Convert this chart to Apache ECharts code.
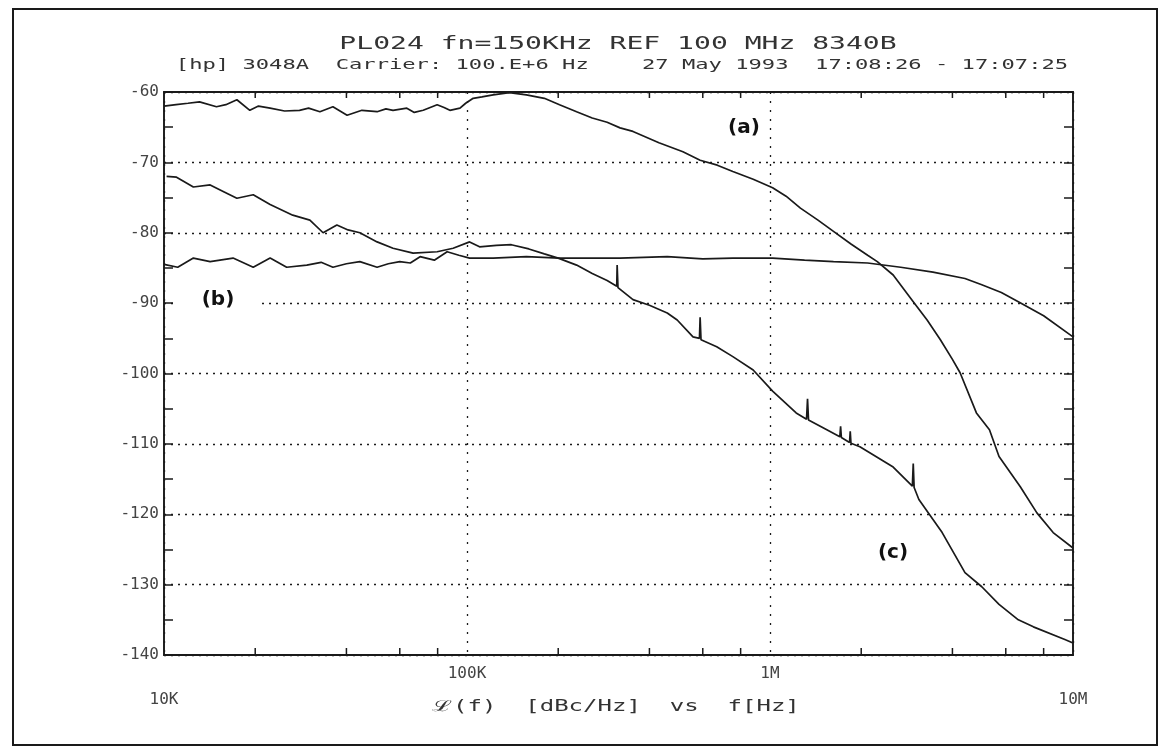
<!DOCTYPE html>
<html>
<head>
<meta charset="utf-8">
<script src="https://cdn.jsdelivr.net/npm/echarts@6/dist/echarts.min.js"></script>
<style>html,body{margin:0;padding:0;background:#fff}#c{width:1170px;height:751px}</style>
</head>
<body>
<div id="c"></div>
<script>
// ---- data ----
const titleText = 'PL024 fn=150KHz REF 100 MHz 8340B';
const subtitleText = '[hp] 3048A  Carrier: 100.E+6 Hz    27 May 1993  17:08:26 - 17:07:25';
const xAxisTitle = '\u2112(f)  [dBc/Hz]  vs  f[Hz]';
const xTickLabels = {10000: '10K', 100000: '100K', 1000000: '1M', 10000000: '10M'};
const yTicks = [-60, -70, -80, -90, -100, -110, -120, -130, -140];
const minorFreqs = [2e4, 4e4, 6e4, 8e4, 2e5, 4e5, 6e5, 8e5, 2e6, 4e6, 6e6, 8e6];
const curveLabels = ['(a)', '(b)', '(c)'];

const curveA = [
[10000,-62.0],[10960,-61.8],[12000,-61.6],[13100,-61.4],[14900,-62.1],[16000,-61.8],[17400,-61.1],[19200,-62.6],[20500,-62.0],[22400,-62.3],[25000,-62.7],[28000,-62.6],[30000,-62.3],[32700,-62.8],[36100,-62.1],[40200,-63.3],[45000,-62.6],[50500,-62.8],[54000,-62.4],[57000,-62.6],[63300,-62.3],[67000,-62.9],[71700,-62.6],[79700,-61.8],[84000,-62.2],[87800,-62.6],[94800,-62.3],[99000,-61.6],[104800,-60.9],[112000,-60.7],[122000,-60.4],[138000,-60.1],[157000,-60.4],[180000,-60.9],[202000,-61.8],[230000,-62.8],[259000,-63.7],[290000,-64.3],[320000,-65.1],[353000,-65.6],[430000,-67.2],[516000,-68.5],[588000,-69.7],[670000,-70.4],[754000,-71.3],[880000,-72.4],[1020000,-73.6],[1130000,-74.8],[1260000,-76.5],[1440000,-78.2],[1620000,-79.8],[1850000,-81.6],[2100000,-83.2],[2260000,-84.1],[2550000,-86.0],[2970000,-89.8],[3300000,-92.4],[3650000,-95.2],[4000000,-98.0],[4240000,-99.9],[4800000,-105.6],[5300000,-108.0],[5700000,-111.8],[6700000,-116.1],[7600000,-119.8],[8600000,-122.6],[10000000,-124.8]
];

const curveB = [
[10000,-84.5],[11100,-84.9],[12500,-83.6],[14200,-84.1],[16900,-83.6],[19700,-84.9],[22400,-83.6],[25400,-84.9],[29600,-84.6],[33000,-84.2],[36100,-84.9],[40000,-84.4],[44300,-84.1],[50500,-84.9],[55000,-84.4],[60000,-84.1],[65000,-84.3],[70000,-83.4],[78000,-83.9],[86000,-82.7],[94000,-83.2],[102000,-83.6],[122000,-83.6],[157000,-83.4],[202000,-83.6],[275000,-83.6],[320000,-83.6],[458000,-83.4],[600000,-83.7],[754000,-83.6],[1020000,-83.6],[1300000,-83.9],[1620000,-84.1],[2100000,-84.3],[2700000,-84.9],[3450000,-85.6],[4400000,-86.5],[5000000,-87.4],[5800000,-88.5],[6600000,-89.8],[8000000,-91.8],[10000000,-94.8]
];

const curveC = [
[10200,-72.0],[11000,-72.1],[12500,-73.5],[14200,-73.2],[15800,-74.2],[17400,-75.1],[19700,-74.6],[22400,-76.0],[26600,-77.5],[30300,-78.2],[33500,-80.0],[37200,-78.9],[40500,-79.6],[44300,-80.0],[50500,-81.3],[57000,-82.2],[66400,-82.9],[79700,-82.7],[90000,-82.2],[102000,-81.3],[110000,-82.0],[125000,-81.8],[140000,-81.7],[160000,-82.3],[180000,-83.0],[200000,-83.6],[230000,-84.6],[259000,-85.8],[290000,-86.8],[312000,-87.6],[313000,-84.6],[315000,-87.8],[353000,-89.5],[400000,-90.3],[458000,-91.4],[494000,-92.4],[557000,-94.8],[585000,-95.0],[588000,-92.0],[592000,-95.2],[667000,-96.2],[754000,-97.6],[880000,-99.5],[1020000,-102.5],[1220000,-105.6],[1320000,-106.5],[1330000,-103.6],[1340000,-106.6],[1540000,-108.0],[1700000,-109.0],[1710000,-107.5],[1720000,-109.1],[1830000,-109.8],[1840000,-108.2],[1850000,-109.9],[1980000,-110.4],[2550000,-113.3],[2950000,-116.0],[2970000,-112.8],[2990000,-116.2],[3100000,-117.9],[3700000,-122.6],[4400000,-128.3],[5000000,-130.3],[5700000,-132.8],[6600000,-135.0],[7400000,-136.0],[9400000,-137.8],[10000000,-138.3]
];

// ---- chart ----
const chart = echarts.init(document.getElementById('c'), null, {renderer: 'canvas'});
const ink = '#1a1a1a';
const mono = 'DejaVu Sans Mono';

const yAxisCommon = {
  type: 'value', min: -140, max: -60, interval: 10,
  axisLine: {show: true, lineStyle: {color: ink, width: 1.6}},
  axisTick: {show: true, inside: true, length: 9, lineStyle: {color: ink, width: 1.5}},
  minorTick: {show: true, splitNumber: 2, length: 9, lineStyle: {color: ink, width: 1.5}},
};

chart.setOption({
  animation: false,
  backgroundColor: '#fff',
  grid: {left: 164, right: 97, top: 92, bottom: 96, show: true, borderColor: ink, borderWidth: 1.6},
  xAxis: [{
    type: 'log', logBase: 10, min: 1e4, max: 1e7,
    axisLine: {show: true, lineStyle: {color: ink, width: 2}},
    axisTick: {show: false},
    splitLine: {show: true, lineStyle: {color: ink, width: 1.3, type: [2, 7]}},
    axisLabel: {
      color: '#444', fontFamily: mono, fontSize: 16, margin: 6, lineHeight: 26,
      formatter: v => {
        const t = xTickLabels[Math.round(v)] || '';
        return (Math.round(v) === 10000 || Math.round(v) === 10000000) ? '\n' + t : t;
      }
    }
  }, {
    type: 'log', logBase: 10, min: 1e4, max: 1e7, position: 'top',
    axisLine: {show: true, lineStyle: {color: ink, width: 2.2}},
    axisTick: {show: false}, axisLabel: {show: false}, splitLine: {show: false}
  }],
  yAxis: [Object.assign({}, yAxisCommon, {
    position: 'left',
    splitLine: {show: true, lineStyle: {color: ink, width: 1.3, type: [2, 5]}},
    axisLabel: {color: '#444', fontFamily: mono, fontSize: 16, margin: 5,
      formatter: v => yTicks.indexOf(v) >= 0 ? String(v) : ''}
  }), Object.assign({}, yAxisCommon, {
    position: 'right',
    splitLine: {show: false},
    axisLabel: {show: false}
  })],
  series: [
    {type: 'line', name: 'a', data: curveA, showSymbol: false, lineStyle: {color: ink, width: 1.7}, z: 5},
    {type: 'line', name: 'b', data: curveB, showSymbol: false, lineStyle: {color: ink, width: 1.7}, z: 5},
    {type: 'line', name: 'c', data: curveC, showSymbol: false, lineStyle: {color: ink, width: 1.7}, z: 5},
    {
      type: 'custom', silent: true, clip: false, z: 6,
      data: minorFreqs.map(f => [f, -100]),
      encode: {x: 0, y: 1},
      renderItem: (params, api) => {
        const p = api.coord([api.value(0), -100]);
        const cs = params.coordSys;
        const st = {stroke: ink, lineWidth: 1.5};
        return {type: 'group', children: [
          {type: 'line', shape: {x1: p[0], y1: cs.y + cs.height, x2: p[0], y2: cs.y + cs.height - 7}, style: st},
          {type: 'line', shape: {x1: p[0], y1: cs.y, x2: p[0], y2: cs.y + 6}, style: st}
        ]};
      }
    }
  ],
  graphic: [
    {type: 'rect', shape: {x: 13, y: 9, width: 1144, height: 736}, style: {fill: 'none', stroke: ink, lineWidth: 2}, z: 1},
    {type: 'text', x: 618, y: 45, scaleX: 1.65, style: {text: titleText, fill: '#333', font: '17px "DejaVu Sans Mono"', textAlign: 'center', textVerticalAlign: 'middle'}},
    {type: 'text', x: 622, y: 65, scaleX: 1.58, style: {text: subtitleText, fill: '#333', font: '14px "DejaVu Sans Mono"', textAlign: 'center', textVerticalAlign: 'middle'}},
    {type: 'text', x: 616, y: 707, scaleX: 1.6, style: {text: xAxisTitle, fill: '#333', font: '15px "DejaVu Sans Mono"', textAlign: 'center', textVerticalAlign: 'middle'}},
    {type: 'text', x: 744, y: 128, z: 10, style: {text: curveLabels[0], fill: '#111', font: 'bold 20px "DejaVu Sans"', textAlign: 'center', textVerticalAlign: 'middle'}},
    {type: 'text', x: 216, y: 300, z: 10, style: {text: curveLabels[1], fill: '#111', font: 'bold 20px "DejaVu Sans"', textAlign: 'center', textVerticalAlign: 'middle', backgroundColor: '#fff', padding: [2, 24, 2, 28]}},
    {type: 'text', x: 893, y: 553, z: 10, style: {text: curveLabels[2], fill: '#111', font: 'bold 20px "DejaVu Sans"', textAlign: 'center', textVerticalAlign: 'middle'}}
  ]
});
</script>
</body>
</html>
